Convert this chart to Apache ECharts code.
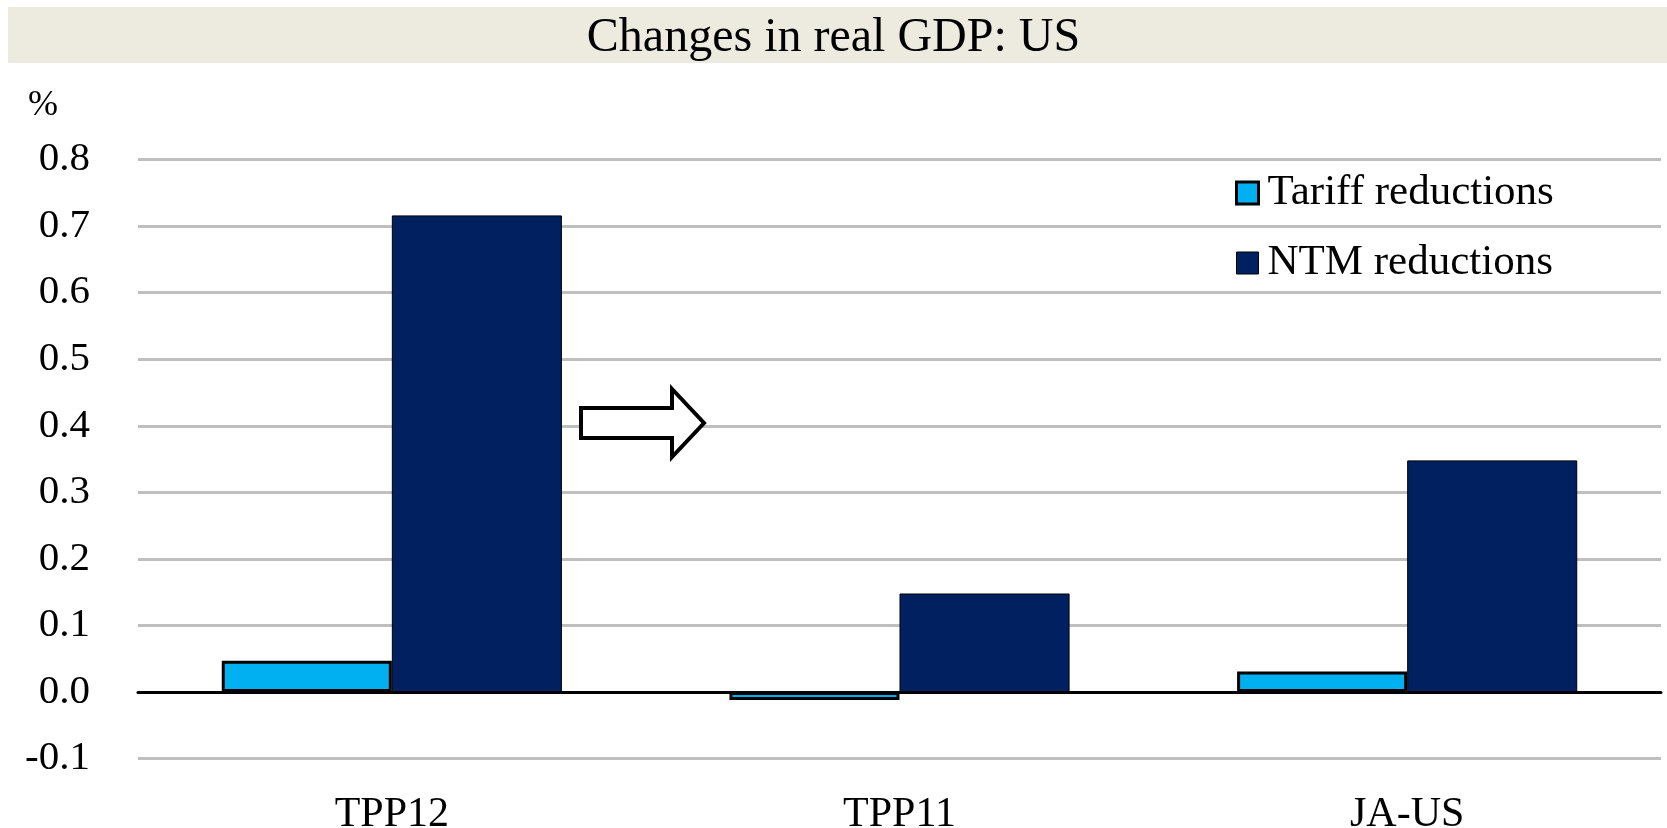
<!DOCTYPE html>
<html>
<head>
<meta charset="utf-8">
<title>Changes in real GDP: US</title>
<script src="https://cdn.jsdelivr.net/npm/echarts@6/dist/echarts.min.js"></script>
<style>
  html, body { margin: 0; padding: 0; background: #ffffff; }
  #chart { width: 1667px; height: 828px; }
</style>
</head>
<body>
<div id="chart"></div>
<script>
// Agreements compared
const categories = ['TPP12', 'TPP11', 'JA-US'];

// Real GDP change, % (by source of liberalisation)
const tariffReductions = [0.047, -0.012, 0.031];
const ntmReductions = [0.716, 0.148, 0.348];

// Value axis range and step
const yMin = -0.1;
const yMax = 0.8;
const yStep = 0.1;

const FONT = "'Liberation Serif', 'Times New Roman', serif";

const chart = echarts.init(document.getElementById('chart'), null, { renderer: 'canvas' });

const option = {
  backgroundColor: '#ffffff',
  animation: false,
  textStyle: { fontFamily: FONT, color: '#000000' },
  title: {
    text: 'Changes in real GDP: US',
    left: 'center',
    top: 9,
    textStyle: { fontFamily: FONT, fontSize: 48, fontWeight: 'normal', color: '#000000' }
  },
  legend: {
    orient: 'vertical',
    left: 1230,
    top: 166,
    itemWidth: 22,
    itemHeight: 22,
    itemGap: 26,
    icon: 'rect',
    textStyle: { fontFamily: FONT, fontSize: 43, color: '#000000', padding: [0, 0, 0, 4], lineHeight: 44 },
    data: [
      { name: 'Tariff reductions', itemStyle: { borderColor: '#000000', borderWidth: 3 } },
      { name: 'NTM reductions', itemStyle: { borderColor: '#000000', borderWidth: 1 } }
    ]
  },
  grid: {
    left: 138, right: 6, top: 159.5, bottom: 69.4,
    containLabel: false,
    outerBoundsMode: 'none'
  },
  xAxis: [
    {
      type: 'category',
      data: categories,
      position: 'bottom',
      axisLine: { show: false, onZero: false },
      axisTick: { show: false },
      axisLabel: { fontFamily: FONT, fontSize: 42, color: '#000000', margin: 35 },
      splitLine: { show: false }
    },
    {
      // zero baseline across the plot
      type: 'category',
      data: categories,
      position: 'bottom',
      axisLine: { show: true, onZero: true, lineStyle: { color: '#000000', width: 3 } },
      axisTick: { show: false },
      axisLabel: { show: false },
      splitLine: { show: false }
    }
  ],
  yAxis: {
    type: 'value',
    min: yMin,
    max: yMax,
    interval: yStep,
    name: '%',
    nameLocation: 'end',
    nameGap: 54,
    nameTextStyle: {
      fontFamily: FONT, fontSize: 36, color: '#000000',
      align: 'right', verticalAlign: 'middle', padding: [0, 80, 0, 0]
    },
    axisLine: { show: false },
    axisTick: { show: false },
    axisLabel: {
      fontFamily: FONT, fontSize: 41, color: '#000000', margin: 48,
      formatter: v => v.toFixed(1)
    },
    splitLine: { show: true, lineStyle: { color: '#BFBFBF', width: 3 } }
  },
  series: [
    {
      name: 'Tariff reductions',
      type: 'bar',
      xAxisIndex: 0,
      data: tariffReductions,
      barGap: '0%',
      barCategoryGap: '33%',
      itemStyle: { color: '#00B0F0', borderColor: '#000000', borderWidth: 3 }
    },
    {
      name: 'NTM reductions',
      type: 'bar',
      xAxisIndex: 0,
      data: ntmReductions,
      barGap: '0%',
      barCategoryGap: '33%',
      itemStyle: { color: '#002060', borderColor: '#000000', borderWidth: 1 }
    }
  ],
  graphic: [
    {
      type: 'rect',
      z: -10,
      shape: { x: 8, y: 7, width: 1659, height: 56 },
      style: { fill: '#EDEAE0' }
    },
    {
      // outlined block arrow between the first two groups
      type: 'polygon',
      z: 100,
      shape: {
        points: [[581, 408], [672, 408], [672, 389], [704, 423], [672, 457], [672, 438], [581, 438]]
      },
      style: { fill: '#ffffff', stroke: '#000000', lineWidth: 4, lineJoin: 'miter' }
    }
  ]
};

chart.setOption(option);
</script>
</body>
</html>
